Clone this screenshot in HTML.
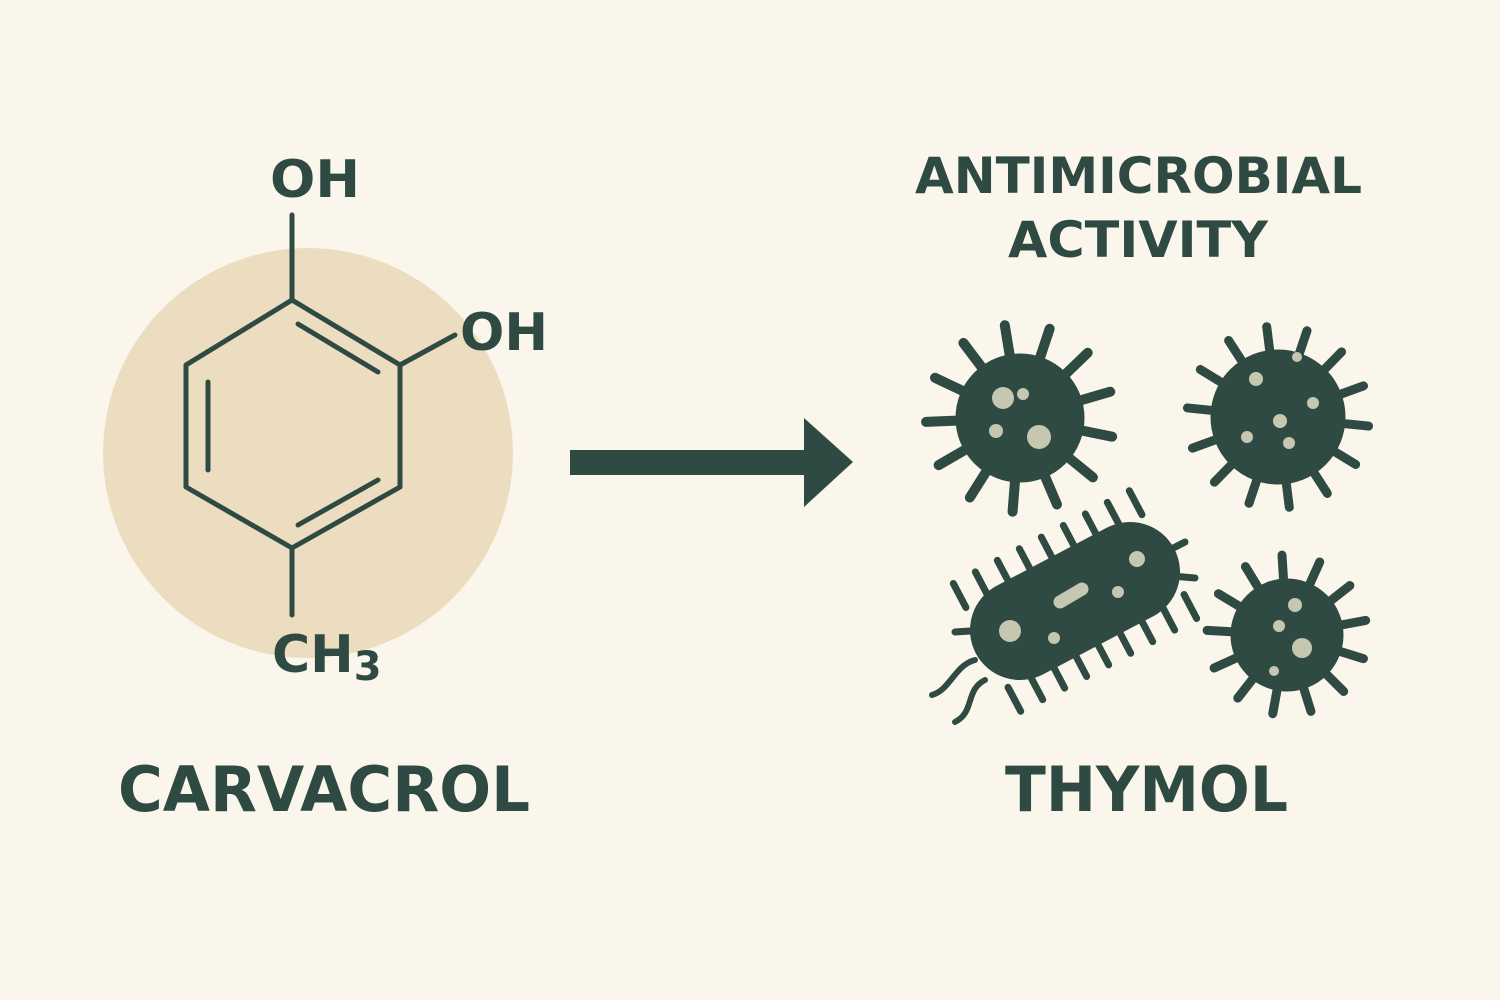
<!DOCTYPE html>
<html><head><meta charset="utf-8"><style>
html,body{margin:0;padding:0;background:#FBF6EC;}
svg{display:block}
text{font-family:"DejaVu Sans","Liberation Sans",sans-serif;font-weight:bold;fill:#2F4A42}
</style></head><body>
<svg id="s" width="1500" height="1000" viewBox="0 0 1500 1000" xmlns="http://www.w3.org/2000/svg">
<rect width="1500" height="1000" fill="#FBF6EC"/>
<circle cx="308" cy="453" r="205" fill="#EDDDC0"/>
<g stroke="#2F4A42" stroke-width="5" fill="none" stroke-linecap="round" stroke-linejoin="round">
<polygon points="292,300 400,365 400,487 292,548 186,487 186,365"/>
<line x1="298" y1="324" x2="378" y2="372"/>
<line x1="208" y1="382" x2="208" y2="470"/>
<line x1="298" y1="525" x2="378" y2="480"/>
<line x1="292" y1="300" x2="292" y2="215"/>
<line x1="400" y1="365" x2="455" y2="335"/>
<line x1="292" y1="548" x2="292" y2="615"/>
</g>
<text x="270" y="197" font-size="52" textLength="90" lengthAdjust="spacingAndGlyphs" style="font-weight:600">OH</text>
<text x="460" y="350" font-size="52" textLength="88" lengthAdjust="spacingAndGlyphs" style="font-weight:600">OH</text>
<text x="272" y="672" font-size="52" style="font-weight:600">CH<tspan font-size="40" dy="8">3</tspan></text>
<rect x="570" y="450" width="240" height="25" fill="#2F4A42"/>
<polygon points="804,418 853,462 804,507" fill="#2F4A42"/>
<text x="915" y="193" font-size="50" textLength="447" lengthAdjust="spacingAndGlyphs">ANTIMICROBIAL</text>
<text x="1008" y="257" font-size="50" textLength="260" lengthAdjust="spacingAndGlyphs">ACTIVITY</text>
<text x="118" y="811" font-size="62" textLength="412" lengthAdjust="spacingAndGlyphs">CARVACROL</text>
<text x="1005" y="811" font-size="62" textLength="283" lengthAdjust="spacingAndGlyphs">THYMOL</text>
<g id="mic" fill="#2F4A42" stroke="#2F4A42" stroke-linecap="round"></g>
</svg>
<script>
var g=document.getElementById('mic'),NS='http://www.w3.org/2000/svg';
function el(t,a){var e=document.createElementNS(NS,t);for(var k in a)e.setAttribute(k,a[k]);g.appendChild(e);return e;}
var DOT='#C5C7B0';
function virus(cx,cy,r,L,n,off,dots,w){
 for(var i=0;i<n;i++){var a=off+i*2*Math.PI/n;el('line',{x1:cx,y1:cy,x2:cx+Math.cos(a)*(r+L),y2:cy+Math.sin(a)*(r+L),'stroke-width':w});}
 el('circle',{cx:cx,cy:cy,r:r});
 dots.forEach(function(d){el('circle',{cx:cx+d[0],cy:cy+d[1],r:d[2],fill:DOT,stroke:'none'});});
}
virus(1020,418,64,30,13,0.2,[[-17,-20,11],[3,-24,6],[-24,13,7],[19,19,12]],10);
virus(1278,417,67,24,14,0.1,[[-22,-38,7],[19,-60,5],[35,-14,6],[2,4,7],[-31,20,6],[11,26,6]],9);
virus(1287,635,56,24,13,0.3,[[8,-30,7],[-8,-9,6],[15,13,10],[-13,36,5]],9);
var nx=58/124,ny=110/124;
for(var t=-0.3;t<=1.3;t+=0.2){var px=1020+110*t,py=630-58*t;
 el('line',{x1:px+nx*45,y1:py+ny*45,x2:px+nx*72,y2:py+ny*72,'stroke-width':7});
 el('line',{x1:px-nx*45,y1:py-ny*45,x2:px-nx*72,y2:py-ny*72,'stroke-width':7});}
el('line',{x1:1185,y1:542,x2:1150,y2:560,'stroke-width':7});
el('line',{x1:1195,y1:578,x2:1160,y2:575,'stroke-width':7});
el('line',{x1:955,y1:632,x2:985,y2:630,'stroke-width':7});
el('line',{x1:1020,y1:630,x2:1130,y2:572,'stroke-width':100});
el('path',{d:'M975,660 C955,665 950,690 932,695',fill:'none','stroke-width':6});
el('path',{d:'M985,680 C965,690 975,712 955,722',fill:'none','stroke-width':6});
el('circle',{cx:1010,cy:631,r:11,fill:DOT,stroke:'none'});
el('circle',{cx:1054,cy:638,r:6,fill:DOT,stroke:'none'});
el('circle',{cx:1137,cy:559,r:8,fill:DOT,stroke:'none'});
el('circle',{cx:1118,cy:592,r:6,fill:DOT,stroke:'none'});
el('line',{x1:1060,y1:602,x2:1082,y2:589,stroke:DOT,'stroke-width':13});
</script>
</body></html>
